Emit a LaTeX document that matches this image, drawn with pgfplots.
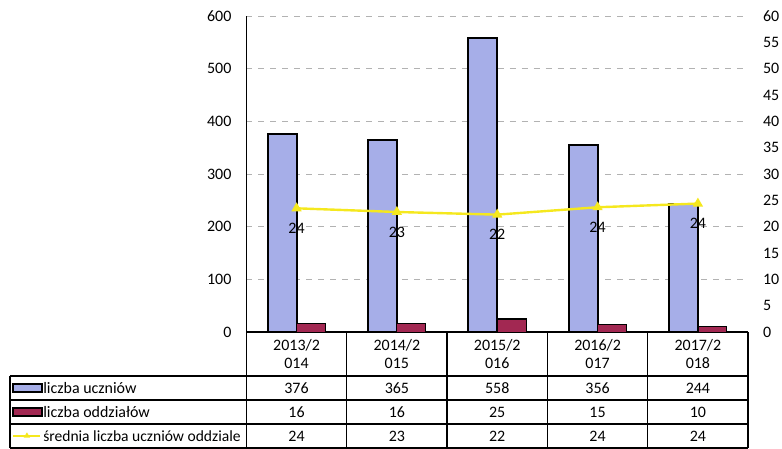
\documentclass[border=0pt]{standalone}
\usepackage{pgfplots}
\pgfplotsset{compat=1.18}
\usepackage{fontspec}
\setmainfont{Carlito}
\definecolor{ucz}{RGB}{166,174,232}
\definecolor{odd}{RGB}{162,40,82}
\definecolor{sre}{RGB}{245,232,30}
\newcommand{\fs}{\fontsize{8}{9.4}\selectfont}
\begin{document}
\begin{tikzpicture}[font=\fs]
\pgfplotsset{every axis/.append style={scale only axis, width=251.5pt, height=158.5pt,
  xmin=-0.5, xmax=4.5, xtick=\empty, /pgf/number format/assume math mode=true,
  major tick length=0pt, ticklabel style={font=\fs}}}
\begin{axis}[ymin=0, ymax=600, ytick={0,100,...,600},
  ymajorgrids, grid style={gray!60, dashed, line width=0.4pt},
  axis x line*=bottom, axis y line*=left, axis line style={black, line width=0.7pt, -},
  yticklabel style={xshift=-4pt},
  ybar, bar width=14.5pt, clip=false]
\addplot[fill=ucz, draw=black, line width=1pt, bar shift=-7.25pt]
  coordinates {(0,376) (1,365) (2,558) (3,356) (4,244)};
\addplot[fill=odd, draw=black, line width=0.6pt, bar shift=7.25pt]
  coordinates {(0,16) (1,16) (2,25) (3,15) (4,10)};
\coordinate (SW) at (rel axis cs:0,0);
\end{axis}
\begin{axis}[ymin=0, ymax=60, ytick={0,5,...,60},
  axis y line*=right, axis x line=none, axis line style={draw=none},
  yticklabel style={xshift=4pt}, clip=false]
\addplot[sre, line width=1.2pt, mark=triangle*, mark size=1.8pt,
  point meta=explicit symbolic, nodes near coords,
  every node near coord/.append style={black, anchor=center, yshift=-10pt, font=\fs}]
  coordinates {(0,23.5) [24] (1,22.8) [23] (2,22.3) [22] (3,23.7) [24] (4,24.4) [24]};
\end{axis}
\begin{scope}[shift={(SW)}]
  % table grid
  \foreach \x in {0,50.3,100.6,150.9,201.2,251.5} \draw[black, line width=0.7pt] (\x pt,0) -- (\x pt,-58pt);
  \draw[black, line width=0.7pt] (-118.5pt,-22pt) -- (-118.5pt,-58pt);
  \foreach \y in {22,34,46,58} \draw[black, line width=0.7pt] (-118.5pt,-\y pt) -- (251.5pt,-\y pt);
  % header
  \foreach \x/\a/\b [count=\i from 0] in {2013/2/014, 2014/2/015, 2015/2/016, 2016/2/017, 2017/2/018}
    \node[align=center, font=\fs] at (25.15pt+\i*50.3pt,-11pt) {\x/\a\\\b};
  % values
  \foreach \v [count=\i from 0] in {376,365,558,356,244}
    \node[font=\fs] at (25.15pt+\i*50.3pt,-28pt) {\v};
  \foreach \v [count=\i from 0] in {16,16,25,15,10}
    \node[font=\fs] at (25.15pt+\i*50.3pt,-40pt) {\v};
  \foreach \v [count=\i from 0] in {24,23,22,24,24}
    \node[font=\fs] at (25.15pt+\i*50.3pt,-52pt) {\v};
  % legend keys
  \draw[fill=ucz, draw=black, line width=0.7pt] (-117pt,-26pt) rectangle (-102.5pt,-30pt);
  \node[anchor=west, inner sep=0pt, font=\fs] at (-102pt,-28pt) {liczba uczniów};
  \draw[fill=odd, draw=black, line width=0.7pt] (-117pt,-38pt) rectangle (-102.5pt,-42pt);
  \node[anchor=west, inner sep=0pt, font=\fs] at (-102pt,-40pt) {liczba oddziałów};
  \draw[sre, line width=1.2pt] (-117pt,-52pt) -- (-103.5pt,-52pt);
  \fill[sre] (-110pt,-50.2pt) -- (-111.6pt,-52.9pt) -- (-108.4pt,-52.9pt) -- cycle;
  \node[anchor=west, inner sep=0pt, font=\fontsize{7.8}{9.2}\selectfont] at (-102pt,-52pt) {średnia liczba uczniów oddziale};
  \pgfresetboundingbox
  \path[use as bounding box] (-123.5pt,-58.5pt) rectangle (268.5pt,166.5pt);
\end{scope}
\end{tikzpicture}
\end{document}
